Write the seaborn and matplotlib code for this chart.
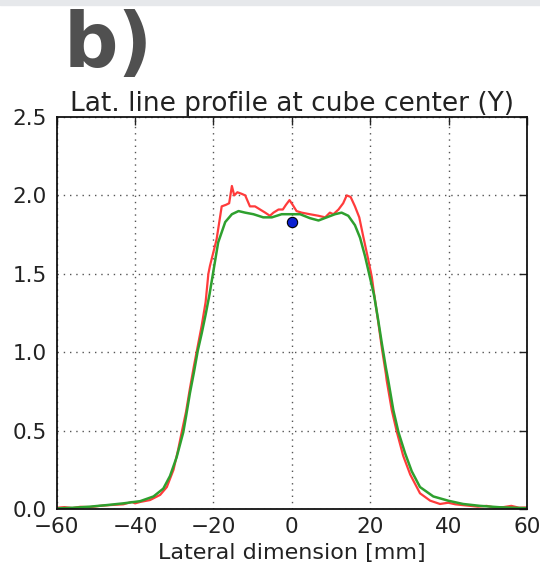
import matplotlib
matplotlib.use("Agg")
import matplotlib.pyplot as plt
import seaborn as sns
import pandas as pd
from matplotlib.patches import Rectangle

# ---------------- data ----------------
green_x = [-60, -55.8, -51.5, -47.2, -43, -38.7, -35.3, -32.8, -31.1, -29.4, -27.7,
           -27, -26, -25, -24, -23, -22, -21, -20.4, -18.8, -17.0, -15.3, -13.6,
           -11.9, -9.8, -7.3, -5.1, -2.6, -0.3, 2.1, 4.6, 6.8, 8.9, 11.0, 12.7,
           14.4, 16.1, 17.4, 18.7, 19.9, 21, 22, 23, 24, 24.6, 25.9, 27.2, 28.9,
           30.6, 32.7, 36.1, 39.9, 43.7, 48, 53.1, 60]
green_y = [0.004, 0.008, 0.015, 0.025, 0.036, 0.05, 0.08, 0.13, 0.21, 0.33, 0.49,
           0.59, 0.74, 0.87, 1.01, 1.12, 1.24, 1.37, 1.46, 1.70, 1.83, 1.88, 1.90,
           1.89, 1.88, 1.86, 1.86, 1.88, 1.88, 1.88, 1.855, 1.84, 1.86, 1.88, 1.89,
           1.87, 1.81, 1.73, 1.61, 1.48, 1.36, 1.21, 1.05, 0.90, 0.82, 0.63, 0.49, 0.355,
           0.24, 0.14, 0.08, 0.053, 0.032, 0.02, 0.011, 0.005]

red_x = [-60, -58, -56, -54, -51.5, -49, -46.4, -43, -40.8, -40, -38.7, -36.2, -33.6,
         -31.9, -30.2, -29, -28.1, -27, -26, -25, -24, -23, -22, -21.3, -20.9, -19.2,
         -17.9, -16.8, -16.0, -15.3, -14.7, -13.9, -12.8, -11.9, -10.7, -9.4, -8.1,
         -6.8, -5.6, -4.7, -3.4, -2.3, -1.5, -0.6, 0.2, 1.2, 2.5, 4.6, 6.8, 8.5, 9.7,
         10.6, 11.9, 13.1, 14.0, 15.0, 16.1, 17.2, 18.2, 19.5, 20.4, 21, 22, 23, 24,
         24.2, 25.5, 26.8, 28.4, 30.2, 32.7, 35.3, 37.8, 39.9, 41.7, 43.5, 45.5,
         47.5, 49.7, 51.6, 54, 56, 58, 60]
red_y = [0.008, 0.012, 0.006, 0.014, 0.012, 0.02, 0.025, 0.03, 0.045, 0.036, 0.045,
         0.057, 0.09, 0.14, 0.25, 0.38, 0.49, 0.62, 0.77, 0.91, 1.04, 1.17, 1.32,
         1.50, 1.55, 1.72, 1.93, 1.94, 1.95, 2.06, 2.00, 2.02, 2.01, 2.00, 1.93, 1.93,
         1.91, 1.89, 1.87, 1.89, 1.91, 1.91, 1.94, 1.97, 1.94, 1.90, 1.89, 1.88, 1.87,
         1.86, 1.89, 1.88, 1.91, 1.95, 2.00, 1.99, 1.93, 1.86, 1.74, 1.59, 1.48, 1.37,
         1.20, 1.02, 0.86, 0.82, 0.63, 0.49, 0.34, 0.22, 0.10, 0.053, 0.032, 0.04,
         0.03, 0.025, 0.02, 0.015, 0.02, 0.01, 0.012, 0.02, 0.008, 0.01]

point_x = [0]
point_y = [1.83]

x_ticks = [-60, -40, -20, 0, 20, 40, 60]
y_ticks = [0.0, 0.5, 1.0, 1.5, 2.0, 2.5]

title = "Lat. line profile at cube center (Y)"
xlabel = "Lateral dimension [mm]"
panel = "b)"

# ---------------- plot ----------------
sns.set_style("white")
plt.rcParams['font.family'] = ['DejaVu Sans']

fig = plt.figure(figsize=(5.4, 5.7), dpi=100)
ax = fig.add_axes([56.7/540, 1 - 509/570, (527 - 56.7)/540, (509 - 117)/570])

red_df = pd.DataFrame({"x": red_x, "y": red_y})
green_df = pd.DataFrame({"x": green_x, "y": green_y})
sns.lineplot(data=red_df, x="x", y="y", ax=ax, color="#ff3b3b", linewidth=1.6,
             sort=False, estimator=None)
sns.lineplot(data=green_df, x="x", y="y", ax=ax, color="#2ea02e", linewidth=1.8,
             sort=False, estimator=None)
sns.scatterplot(x=point_x, y=point_y, ax=ax, color="#0a1fd0", edgecolor="black",
                linewidth=0.8, s=55, zorder=5)

ax.set_xlim(-60, 60)
ax.set_ylim(0, 2.5)
ax.set_xticks(x_ticks)
ax.set_yticks(y_ticks)
ax.set_xticklabels([str(t).replace('-', '\u2212') for t in x_ticks])
ax.set_yticklabels([f"{t:.1f}" for t in y_ticks])
ax.tick_params(direction='in', length=6, width=1, top=True, right=True,
               labelsize=15.5, colors='#222222', pad=6)
ax.tick_params(axis='y', pad=7)
for s in ax.spines.values():
    s.set_visible(True)
    s.set_color('#111111')
    s.set_linewidth(1.3)
ax.grid(True, linestyle=(0, (1, 3.5)), color='#555555', linewidth=1.0)
ax.set_axisbelow(True)

ax.set_title(title, fontsize=19, color='#222222', pad=4)
ax.set_xlabel(xlabel, fontsize=16, color='#222222', labelpad=4)
ax.set_ylabel("")

fig.text(64/540, 1 - 67/570, panel, ha='left', va='baseline', fontsize=55,
         fontweight='bold', color='#505050', family=['DejaVu Sans'])

fig.patches.append(Rectangle((0, 1 - 5/570), 1, 5/570, transform=fig.transFigure,
                             color='#e6e8eb', zorder=0))

fig.savefig("out.png", dpi=100)
